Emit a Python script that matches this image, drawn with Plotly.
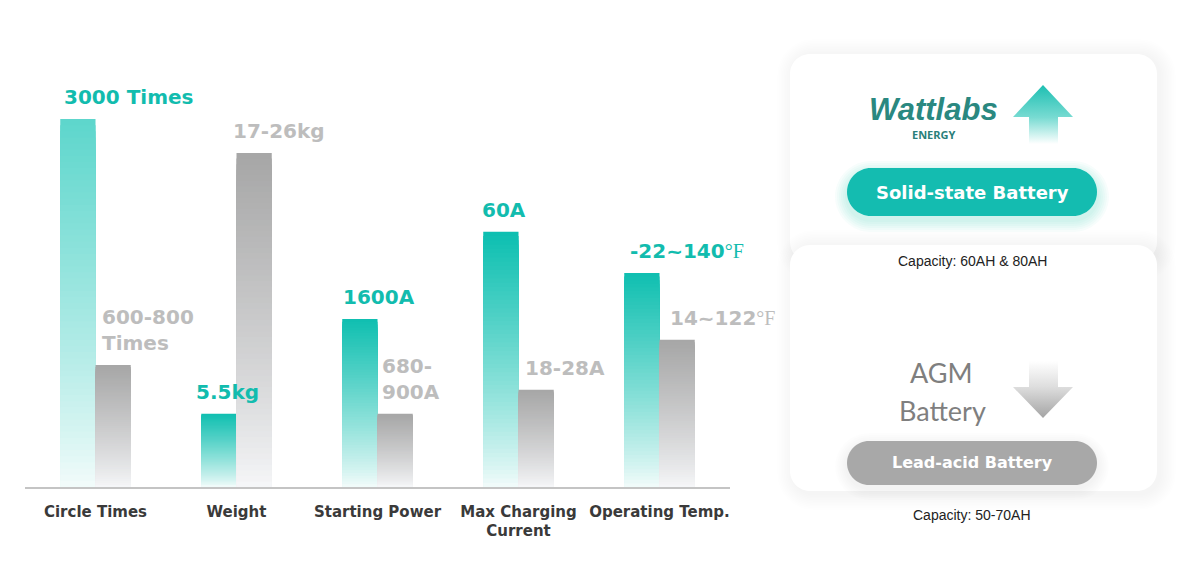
import plotly.graph_objects as go

# ---------------- data ----------------
categories = ["Circle Times", "Weight", "Starting Power", "Max Charging<br>Current", "Operating Temp."]
solid_heights = [92.0, 18.3, 42.0, 63.8, 53.5]     # relative bar heights (0-100 scale)
agm_heights = [30.5, 83.5, 18.3, 24.3, 36.8]
solid_labels = ["3000 Times", "5.5kg", "1600A", "60A", "-22~140°F"]
agm_labels = ["600-800<br>Times", "17-26kg", "680-<br>900A", "18-28A", "14~122°F"]
solid_top_colors = ["#5dd6cc", "#0fbfb0", "#0fbfb0", "#0bbfb0", "#0fbfb0"]
agm_top_colors = ["#a6a6a6", "#a6a6a6", "#a6a6a6", "#a6a6a6", "#a6a6a6"]
solid_name = "Solid-state Battery"
agm_name = "Lead-acid Battery"
solid_capacity = "Capacity: 60AH & 80AH"
agm_capacity = "Capacity: 50-70AH"

W, H = 1185, 569
TEAL = "#12bcae"
LABEL_GRAY = "#bdbdbd"


def hex2rgb(h):
    h = h.lstrip("#")
    return tuple(int(h[i:i + 2], 16) for i in (0, 2, 4))


def mix(c0, c1, t):
    a, b = hex2rgb(c0), hex2rgb(c1)
    return "rgb(%d,%d,%d)" % tuple(round(a[i] + (b[i] - a[i]) * t) for i in range(3))


fig = go.Figure()

# ---------------- gradient bars (overlaid slices) ----------------
N = 60
for heights, tops, bottom, offset in [
    (solid_heights, solid_top_colors, "#f4fcfb", -0.25),
    (agm_heights, agm_top_colors, "#f6f7f9", 0.0),
]:
    for k in range(N):
        frac = (N - k) / N
        fmid = (N - k - 0.5) / N
        fig.add_trace(go.Bar(
            x=list(range(len(categories))),
            y=[h * frac for h in heights],
            width=0.25, offset=offset,
            marker=dict(color=[mix(bottom, t, fmid ** 0.85) for t in tops], line=dict(width=0)),
            hoverinfo="skip", showlegend=False,
            xaxis="x", yaxis="y",
        ))


def fmt(lbl):
    return lbl.replace("°F", "<span style='font-family:Liberation Serif;font-weight:normal'>°F</span>")


solid_dx = [2, -7, -1, -3, 4]
agm_dx = [4, -6, 2, 4, 8]
for i in range(len(categories)):
    fig.add_annotation(x=i - 0.25, y=solid_heights[i], xref="x", yref="y", text=fmt(solid_labels[i]),
                       showarrow=False, xanchor="left", yanchor="bottom", yshift=8, xshift=solid_dx[i],
                       align="left",
                       font=dict(family="DejaVu Sans", size=20, color=TEAL, weight="bold"))
    fig.add_annotation(x=i, y=agm_heights[i], xref="x", yref="y", text=fmt(agm_labels[i]),
                       showarrow=False, xanchor="left", yanchor="bottom", yshift=8, xshift=agm_dx[i],
                       align="left",
                       font=dict(family="DejaVu Sans", size=20, color=LABEL_GRAY, weight="bold"))

# ---------------- decorative panel ----------------
K = 0.5523


def rrect(x0, y0, x1, y1, r):
    c = r * K
    return (f"M{x0 + r},{y0} L{x1 - r},{y0} C{x1 - r + c},{y0} {x1},{y0 + r - c} {x1},{y0 + r} "
            f"L{x1},{y1 - r} C{x1},{y1 - r + c} {x1 - r + c},{y1} {x1 - r},{y1} "
            f"L{x0 + r},{y1} C{x0 + r - c},{y1} {x0},{y1 - r + c} {x0},{y1 - r} "
            f"L{x0},{y0 + r} C{x0},{y0 + r - c} {x0 + r - c},{y0} {x0 + r},{y0} Z")


shapes = []


def add_card(x0, y0, x1, y1, r):
    for k in range(1, 11):
        e = k * 1.6
        shapes.append(dict(type="path", xref="x2", yref="y2", layer="below",
                           path=rrect(x0 - e + 3, y0 - e + 1, x1 + e + 3, y1 + e + 3, r + e),
                           fillcolor="rgba(0,0,0,0.005)", line=dict(width=0)))
    shapes.append(dict(type="path", xref="x2", yref="y2", layer="below",
                       path=rrect(x0, y0, x1, y1, r), fillcolor="white", line=dict(width=0)))


add_card(790, 54, 1157, 262, 20)
add_card(790, 245, 1157, 491, 20)

# pill glows
for k in range(1, 7):
    e = k * 2.0
    shapes.append(dict(type="path", xref="x2", yref="y2", layer="below",
                       path=rrect(847 - e, 168 - e + 5, 1097 + e, 216 + e + 4, 24 + e),
                       fillcolor="rgba(20,190,176,0.035)", line=dict(width=0)))
    shapes.append(dict(type="path", xref="x2", yref="y2", layer="below",
                       path=rrect(847 - e, 441 - e + 4, 1097 + e, 485 + e + 3, 22 + e),
                       fillcolor="rgba(0,0,0,0.008)", line=dict(width=0)))
shapes.append(dict(type="path", xref="x2", yref="y2", path=rrect(847, 168, 1097, 216, 24),
                   fillcolor="#14bcb0", line=dict(width=0)))
shapes.append(dict(type="path", xref="x2", yref="y2", path=rrect(847, 441, 1097, 485, 22),
                   fillcolor="#a8a8a8", line=dict(width=0)))
fig.update_layout(shapes=shapes)

# arrows with gradient fills
up_x = [1043, 1073, 1058, 1058, 1029, 1029, 1013, 1043]
up_y = [85, 117, 117, 144, 144, 117, 117, 85]
fig.add_trace(go.Scatter(x=up_x, y=up_y, xaxis="x2", yaxis="y2", mode="lines", line=dict(width=0),
                         fill="toself", hoverinfo="skip", showlegend=False,
                         fillgradient=dict(type="vertical", start=85, stop=144,
                                           colorscale=[[0, "#1dbfb2"], [0.55, "#78dbd2"], [1, "#ffffff"]])))
dn_x = [1029, 1058, 1058, 1073, 1043, 1013, 1029, 1029]
dn_y = [361, 361, 387, 387, 418, 387, 387, 361]
fig.add_trace(go.Scatter(x=dn_x, y=dn_y, xaxis="x2", yaxis="y2", mode="lines", line=dict(width=0),
                         fill="toself", hoverinfo="skip", showlegend=False,
                         fillgradient=dict(type="vertical", start=361, stop=418,
                                           colorscale=[[0, "#ffffff"], [0.45, "#dedede"], [1, "#a4a4a4"]])))


def ann(x, y, text, size, color, family="Liberation Sans", weight="normal", style="normal"):
    fig.add_annotation(x=x, y=y, xref="x2", yref="y2", text=text, showarrow=False,
                       xanchor="center", yanchor="middle",
                       font=dict(family=family, size=size, color=color, weight=weight, style=style))


ann(933, 109, "Wattlabs", 31, "#2a8880", weight="bold", style="italic")
ann(933, 134, "ENERGY", 11, "#2a7f7a", family="Noto Sans", weight="bold")
ann(972, 192, solid_name, 18, "white", family="DejaVu Sans", weight="bold")
ann(972, 261, solid_capacity, 14, "#222222")
ann(941, 372, "AGM", 27, "#7f7f7f", family="Lato")
ann(942, 410, "Battery", 27, "#7f7f7f", family="Lato")
ann(972, 462, agm_name, 16, "white", family="DejaVu Sans", weight="bold")
ann(972, 515, agm_capacity, 14, "#222222")

fig.update_layout(
    width=W, height=H, margin=dict(l=0, r=0, t=0, b=0),
    paper_bgcolor="white", plot_bgcolor="rgba(0,0,0,0)",
    barmode="overlay", showlegend=False,
    xaxis=dict(domain=[25 / W, 730 / W], range=[-0.5, 4.5], tickmode="array",
               tickvals=list(range(len(categories))), ticktext=categories,
               showline=True, linecolor="#c4c4c4", linewidth=1.5, showgrid=False, zeroline=False,
               ticks="", ticklabelstandoff=10, fixedrange=True,
               tickfont=dict(family="DejaVu Sans", size=15, color="#3a3a3a", weight="bold")),
    yaxis=dict(domain=[1 - 487 / H, 1 - 87 / H], range=[0, 100], visible=False, fixedrange=True),
    xaxis2=dict(domain=[0, 1], range=[0, W], visible=False, anchor="y2", fixedrange=True),
    yaxis2=dict(domain=[0, 1], range=[H, 0], visible=False, anchor="x2", fixedrange=True),
)

fig.write_html("out.html", config={"displayModeBar": False},
               post_script="document.body.style.margin='0';document.body.style.overflow='hidden';")
